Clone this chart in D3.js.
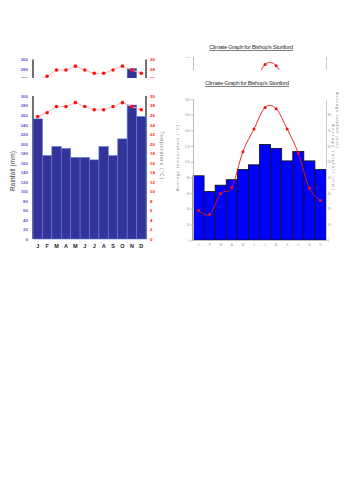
<!DOCTYPE html>
<html>
<head>
<meta charset="utf-8">
<script src="https://cdn.jsdelivr.net/npm/d3@7"></script>
<style>
  body { margin: 0; background: #fff; }
  text { font-family: "Liberation Sans", Arial, sans-serif; }
</style>
</head>
<body>
<div id="chart"></div>
<script>
// data
const months = ["J","F","M","A","M","J","J","A","S","O","N","D"];

// left chart: rainfall (mm) and temperature (°C)
const rainLeft = [252,175,194,190,171,171,166,194,175,210,281,257];
const tempLeft = [25.7,26.5,27.8,27.8,28.6,27.8,27.1,27.1,27.8,28.6,27.8,27.1];
const rainTicksLeft = d3.range(0, 301, 20);
const tempTicksLeft = d3.range(0, 31, 2);

// right chart: Bishop's Stortford
const rainRight = [82,62,70,77,90,96,122,117,101,113,101,90];
const tempRight = [18.8,16.4,29.6,33.5,56.3,70.8,84.6,83.8,70.8,55.4,33,25.2];
const leftTicksRight = d3.range(0, 181, 20);
const rightTicksRight = d3.range(0, 81, 10);

const title = "Climate Graph for Bishop\u2019s Stortford";

const svg = d3.select("#chart").append("svg")
    .attr("width", 353)
    .attr("height", 500);

const clipA = {x: 0, y: 55, w: 170, h: 23};
const clipB = {x: 172, y: 57, w: 160, h: 13};

const defs = svg.append("defs");
defs.append("clipPath").attr("id", "clipA")
  .append("rect").attr("x", clipA.x).attr("y", clipA.y).attr("width", clipA.w).attr("height", clipA.h);
defs.append("clipPath").attr("id", "clipB")
  .append("rect").attr("x", clipB.x).attr("y", clipB.y).attr("width", clipB.w).attr("height", clipB.h);

function drawLeft(g) {
    const x = d3.scaleBand(d3.range(12), [33, 146]);
    const y = d3.scaleLinear([0, 300], [239, 96]);
    const t = d3.scaleLinear([0, 30], [239, 96]);

    // frame lines (mostly hidden by bars)
    g.append("line").attr("x1", 33).attr("x2", 33).attr("y1", 96).attr("y2", 239)
        .attr("stroke", "#111").attr("stroke-width", 1.2);
    g.append("line").attr("x1", 146).attr("x2", 146).attr("y1", 96).attr("y2", 239)
        .attr("stroke", "#111").attr("stroke-width", 1.2);

    g.selectAll(".barA")
        .data(rainLeft)
      .join("rect")
        .attr("class", "barA")
        .attr("x", (d, i) => x(i))
        .attr("width", x.bandwidth())
        .attr("y", d => y(d))
        .attr("height", d => y(0) - y(d))
        .attr("fill", "#333399")
        .attr("stroke", "#5a7fd0")
        .attr("stroke-width", 0.6);

    const line = d3.line().x((d, i) => x(i) + x.bandwidth() / 2).y(d => t(d));
    g.append("path").datum(tempLeft)
        .attr("d", line)
        .attr("fill", "none")
        .attr("stroke", "#ffb3b3")
        .attr("stroke-width", 1);
    g.selectAll(".dotA")
        .data(tempLeft)
      .join("circle")
        .attr("class", "dotA")
        .attr("cx", (d, i) => x(i) + x.bandwidth() / 2)
        .attr("cy", d => t(d))
        .attr("r", 1.8)
        .attr("fill", "#ff1010");

    const ax = g.append("g").attr("transform", "translate(29,0)")
        .call(d3.axisLeft(y).tickValues(rainTicksLeft).tickSize(0).tickPadding(1));
    ax.select(".domain").remove();
    ax.selectAll("text").attr("fill", "#6060d0").attr("font-size", 4.4).attr("font-weight", "bold");

    const ar = g.append("g").attr("transform", "translate(149,0)")
        .call(d3.axisRight(t).tickValues(tempTicksLeft).tickSize(0).tickPadding(1));
    ar.select(".domain").remove();
    ar.selectAll("text").attr("fill", "#ff2020").attr("font-size", 4.4).attr("font-weight", "bold");

    const ab = g.append("g").attr("transform", "translate(0,241)")
        .call(d3.axisBottom(x).tickFormat(i => months[i]).tickSize(0).tickPadding(3));
    ab.select(".domain").remove();
    ab.selectAll("text").attr("fill", "#222").attr("font-size", 5.5).attr("font-weight", "bold");

    g.append("text")
        .attr("transform", "translate(15,171) rotate(-90)")
        .attr("text-anchor", "middle")
        .attr("font-size", 6.5)
        .attr("fill", "#444")
        .attr("textLength", 40)
        .text("Rainfall (mm)");
    g.append("text")
        .attr("transform", "translate(160,155) rotate(90)")
        .attr("text-anchor", "middle")
        .attr("font-size", 4.5)
        .attr("fill", "#777")
        .attr("textLength", 48)
        .text("Temperature (\u00b0C)");
}

function drawRight(g) {
    const x = d3.scaleBand(d3.range(12), [193, 326]);
    const y = d3.scaleLinear([0, 180], [240, 99]);
    const t = d3.scaleLinear([0, 90], [240, 99]);

    g.selectAll(".barB")
        .data(rainRight)
      .join("rect")
        .attr("class", "barB")
        .attr("x", (d, i) => x(i))
        .attr("width", x.bandwidth())
        .attr("y", d => y(d))
        .attr("height", d => y(0) - y(d))
        .attr("fill", "#0000ff")
        .attr("stroke", "#111")
        .attr("stroke-width", 0.8);

    const line = d3.line()
        .x((d, i) => x(i) + x.bandwidth() / 2)
        .y(d => t(d))
        .curve(d3.curveCardinal);
    g.append("path").datum(tempRight)
        .attr("d", line)
        .attr("fill", "none")
        .attr("stroke", "#ee1111")
        .attr("stroke-width", 0.9);
    g.selectAll(".dotB")
        .data(tempRight)
      .join("circle")
        .attr("class", "dotB")
        .attr("cx", (d, i) => x(i) + x.bandwidth() / 2)
        .attr("cy", d => t(d))
        .attr("r", 1.5)
        .attr("fill", "#ee1111");

    const al = g.append("g").attr("transform", "translate(193,0)")
        .call(d3.axisLeft(y).tickValues(leftTicksRight).tickSize(2).tickPadding(1));
    al.selectAll(".domain, line").attr("stroke", "#bbb");
    al.selectAll("text").attr("fill", "#999").attr("font-size", 3.2);

    const ar = g.append("g").attr("transform", "translate(326,0)")
        .call(d3.axisRight(t).tickValues(rightTicksRight).tickSize(0).tickPadding(1.5));
    ar.select(".domain").attr("stroke", "#ccc");
    ar.selectAll("text").attr("fill", "#999").attr("font-size", 3.2);

    const ab = g.append("g").attr("transform", "translate(0,240)")
        .call(d3.axisBottom(x).tickFormat(i => months[i]).tickSize(0).tickPadding(4));
    ab.select(".domain").attr("stroke", "#bbb");
    ab.selectAll("text").attr("fill", "#999").attr("font-size", 3.2);

    g.append("text")
        .attr("transform", "translate(179,158) rotate(-90)")
        .attr("text-anchor", "middle")
        .attr("font-size", 4)
        .attr("fill", "#888")
        .attr("textLength", 66)
        .text("Average temperature (\u00b0C)");
    g.append("text")
        .attr("transform", "translate(336,120) rotate(90)")
        .attr("text-anchor", "middle")
        .attr("font-size", 4)
        .attr("fill", "#888")
        .attr("textLength", 56)
        .text("Average rainfall (mm)");
    g.append("text")
        .attr("transform", "translate(332,157) rotate(90)")
        .attr("text-anchor", "middle")
        .attr("font-size", 4)
        .attr("fill", "#888")
        .attr("textLength", 66)
        .text("Average rainfall (mm)");
}

// ghost copies keep only the texts that show through their clip window
function pruneTexts(g, c) {
    g.selectAll("text").filter(function() {
        const b = this.getBoundingClientRect();
        return b.bottom < c.y || b.top > c.y + c.h || b.right < c.x || b.left > c.x + c.w;
    }).remove();
}

// clipped ghost copies near the top
const ghostA = svg.append("g").attr("clip-path", "url(#clipA)")
  .append("g").attr("transform", "translate(0,-36.5)");
drawLeft(ghostA);
pruneTexts(ghostA, clipA);
const ghostB = svg.append("g").attr("clip-path", "url(#clipB)")
  .append("g").attr("transform", "translate(0,-43)");
drawRight(ghostB);
pruneTexts(ghostB, clipB);

drawLeft(svg.append("g"));
drawRight(svg.append("g"));

// titles
[[251, 49], [247, 85]].forEach(([cx, cy]) => {
    svg.append("text")
        .attr("x", cx).attr("y", cy)
        .attr("text-anchor", "middle")
        .attr("font-size", 6)
        .attr("fill", "#333")
        .attr("text-decoration", "underline")
        .attr("textLength", 84)
        .text(title);
});
</script>
</body>
</html>
